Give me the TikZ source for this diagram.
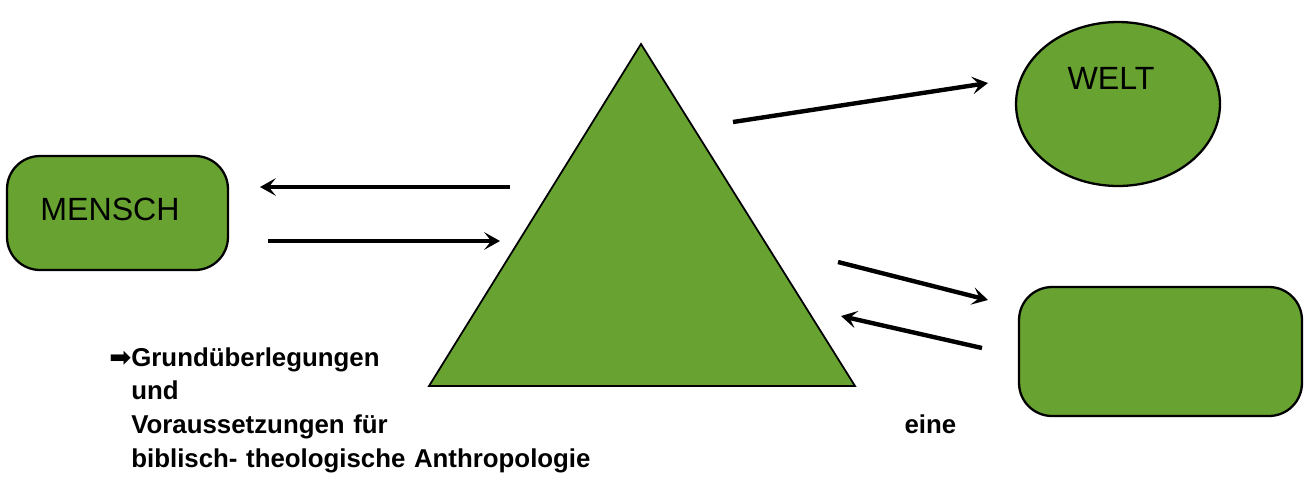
\documentclass[tikz,border=0pt]{standalone}
\usepackage{fontspec}
\setmainfont{Liberation Sans}
\newfontfamily\arrowfont{DejaVu Sans}
\usetikzlibrary{arrows.meta, shapes.geometric}
\definecolor{mygreen}{RGB}{104,163,50}

\tikzset{
    greenshape/.style={draw=black, fill=mygreen, line width=1.3pt},
    greenbox/.style={greenshape, rounded corners=0.66cm},
    bigarrow/.style={line width=2.5pt, -{Stealth[length=9pt, width=10pt, inset=4pt]}},
}

\begin{document}
\begin{tikzpicture}[x=0.02cm, y=-0.02cm]
    \useasboundingbox (0, 0) rectangle (1304, 481);

    % --- Triangle in the middle
    \coordinate (apex) at (641, 44);
    \coordinate (baseL) at (429, 386);
    \coordinate (baseR) at (855, 386);
    \draw[greenshape, line width=1pt] (apex) -- (baseL) -- (baseR) -- cycle;

    % --- MENSCH (left)
    \node[greenbox, minimum width=4.42cm, minimum height=2.28cm] (mensch) at (117.5, 213) {};
    \node[font=\fontsize{18.3}{20}\selectfont] (menschtext) at (110, 209) {MENSCH};

    % --- WELT (top right)
    \node[greenshape, ellipse, minimum width=4.08cm, minimum height=3.28cm] (welt) at (1118, 104) {};
    \node[font=\fontsize{18.3}{20}\selectfont] (welttext) at (1111, 78) {WELT};

    % --- Empty box (bottom right)
    \node[greenbox, minimum width=5.66cm, minimum height=2.58cm] (rbox) at (1160.5, 351.5) {};

    % Arrow ends
    \coordinate (m1) at (510, 187);
    \coordinate (m2) at (260, 187);
    \coordinate (m3) at (268, 241);
    \coordinate (m4) at (500, 241);
    \coordinate (w1) at (733, 122);
    \coordinate (w2) at (988, 83);
    \coordinate (b1) at (838, 262);
    \coordinate (b2) at (988, 300);
    \coordinate (b3) at (982, 348);
    \coordinate (b4) at (841, 316);

    % Arrows
    \draw[bigarrow] (m1) -- (m2);
    \draw[bigarrow] (m3) -- (m4);
    \draw[bigarrow] (w1) -- (w2);
    \draw[bigarrow] (b1) -- (b2);
    \draw[bigarrow] (b3) -- (b4);

    % --- Caption text (bottom left)
    \node[anchor=base west, inner sep=0pt, text width=16.5cm, align=left,
        font=\bfseries\fontsize{14.7}{19.3}\selectfont] (caption) at (131, 366)
        {\llap{\arrowfont\fontsize{15}{16}\selectfont ➡}Grundüberlegungen\\
         und\\
         Voraussetzungen für\hfill eine\\
         biblisch- theologische Anthropologie};
\end{tikzpicture}
\end{document}
